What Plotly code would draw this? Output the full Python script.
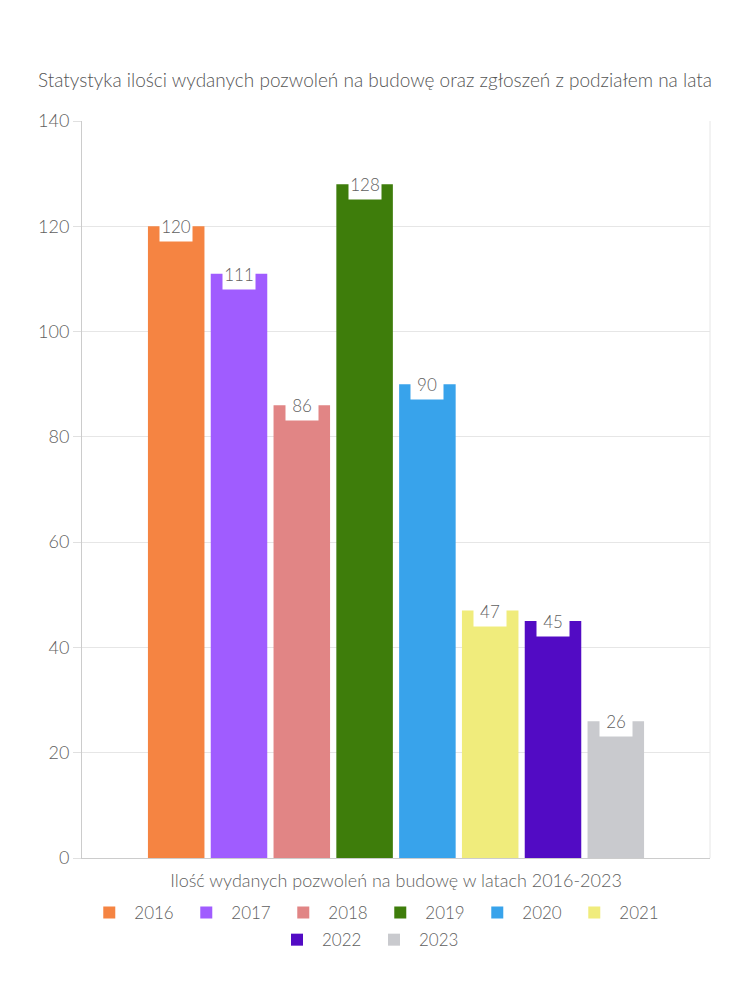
import plotly.graph_objects as go

years = ["2016", "2017", "2018", "2019", "2020", "2021", "2022", "2023"]
values = [120, 111, 86, 128, 90, 47, 45, 26]
colors = ["#F58442", "#A05CFF", "#E18585", "#3E7D0B", "#38A3EB", "#F0EC7C", "#520BC4", "#C9CACE"]
legend_rows = ["legend", "legend", "legend", "legend", "legend", "legend", "legend2", "legend2"]
category = ["Ilość wydanych pozwoleń na budowę w latach 2016-2023"]
title = "Statystyka ilości wydanych pozwoleń na budowę oraz zgłoszeń z podziałem na lata"
yticks = [0, 20, 40, 60, 80, 100, 120, 140]

FONT = "Lato"
GRAY = "#5F5F5F"
W = 300

fig = go.Figure()
for yr, v, c, lg in zip(years, values, colors, legend_rows):
    fig.add_trace(go.Bar(
        name=yr, x=category, y=[v],
        marker=dict(color=c, line=dict(width=0)),
        hoverinfo="name+y", legend=lg,
    ))

bargap = 0.2
n = len(years)
slot = (1 - bargap) / n
for i, v in enumerate(values):
    xpos = -(1 - bargap) / 2 + slot * (i + 0.5)
    fig.add_annotation(
        x=xpos, y=v, xref="x", yref="y", text=str(v),
        showarrow=False, yanchor="middle", xanchor="center",
        bgcolor="white", width=32, height=30, borderpad=0,
        font=dict(family=FONT, size=17, color=GRAY, weight=W),
        yshift=0,
    )

legend_common = dict(orientation="h", xanchor="center",
                     yanchor="top", font=dict(family=FONT, size=17, color=GRAY, weight=W),
                     entrywidth=42, entrywidthmode="pixels", itemwidth=40,
                     traceorder="normal", bgcolor="rgba(0,0,0,0)")

fig.update_layout(
    width=750, height=1000,
    paper_bgcolor="white", plot_bgcolor="white",
    margin=dict(l=82, r=40, t=121, b=142, autoexpand=False),
    barmode="group", bargap=bargap, bargroupgap=0.1,
    title=dict(text=title, x=0.5, xanchor="center", y=0.92, yanchor="middle",
               font=dict(family=FONT, size=19, color="#555555", weight=W)),
    font=dict(family=FONT, color=GRAY),
    showlegend=True,
    legend=dict(x=0.467, y=-0.05, **legend_common),
    legend2=dict(x=0.457, y=-0.087, **legend_common),
)
fig.update_yaxes(range=[0, 140], tickvals=yticks, showgrid=True, gridcolor="#E6E6E6",
                 showline=True, linecolor="#CCCCCC", linewidth=1,
                 ticks="outside", ticklen=8, tickcolor="#E0E0E0",
                 tickfont=dict(family=FONT, size=18, color=GRAY, weight=W), zeroline=False,
                 mirror=False)
fig.update_xaxes(showline=True, linecolor="#CCCCCC", linewidth=1,
                 tickfont=dict(family=FONT, size=18, color=GRAY, weight=W),
                 ticks="", mirror=False, ticklabelstandoff=6)
fig.add_shape(type="line", xref="paper", yref="paper", x0=1, x1=1, y0=0, y1=1,
              line=dict(color="#E6E6E6", width=1))

fig.write_html("out.html")
